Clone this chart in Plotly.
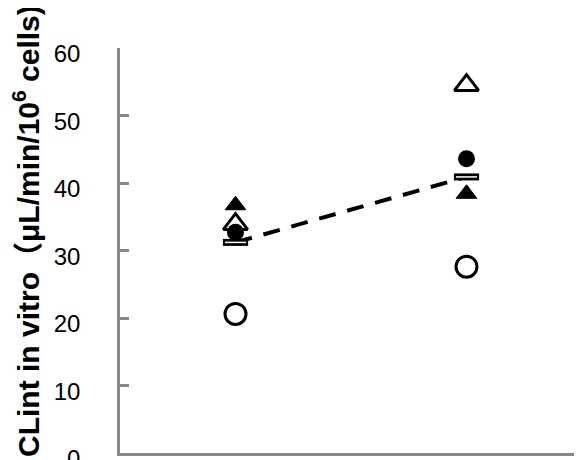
import plotly.graph_objects as go

# Data
groups = [1, 2]
open_circle = [20.6, 27.6]
filled_circle = [32.7, 43.6]
open_triangle = [33.9, 54.5]
filled_triangle = [36.7, 38.4]
means = [31.2, 40.9]
y_ticks = [0, 10, 20, 30, 40, 50, 60]
y_title = "CLint in vitro（μL/min/10<sup>6</sup> cells)"

# page has an 8px body margin; figure coordinates compensate for it
OFF = 8
W, H = 582, 460
ml, mr, mt, mb = 120 - OFF, OFF, 48 - OFF, 15
pw = W - ml - mr
ph = H - mt - mb

fig = go.Figure()

fig.add_trace(go.Scatter(x=groups, y=open_circle, mode="markers",
                         marker=dict(symbol="circle-open", size=21, color="black",
                                     line=dict(width=3, color="black"))))
fig.add_trace(go.Scatter(x=groups, y=open_triangle, mode="markers",
                         marker=dict(symbol="triangle-up", size=21, color="white",
                                     line=dict(width=3, color="black"))))
fig.add_trace(go.Scatter(x=groups, y=filled_triangle, mode="markers",
                         marker=dict(symbol="triangle-up", size=18, color="black",
                                     line=dict(width=1, color="black"))))
fig.add_trace(go.Scatter(x=groups, y=filled_circle, mode="markers",
                         marker=dict(symbol="circle", size=17, color="black",
                                     line=dict(width=0))))
fig.add_trace(go.Scatter(x=groups, y=means, mode="lines",
                         line=dict(color="black", width=4, dash="17px,12px")))
fig.add_trace(go.Scatter(x=groups, y=means, mode="markers",
                         marker=dict(symbol="line-ew-open", size=18, color="black",
                                     line=dict(width=7, color="black"))))
fig.add_trace(go.Scatter(x=groups, y=means, mode="markers",
                         marker=dict(symbol="line-ew-open", size=15, color="white",
                                     line=dict(width=1.5, color="white"))))

fig.update_layout(
    width=W, height=H,
    margin=dict(l=ml, r=mr, t=mt, b=mb, pad=0),
    paper_bgcolor="white", plot_bgcolor="white",
    showlegend=False,
    font=dict(family="Liberation Sans, Arial, sans-serif", color="black"),
)
fig.update_xaxes(range=[0.5, 2.5], showgrid=False, zeroline=False,
                 showline=True, linecolor="#888888", linewidth=2.5,
                 ticks="", showticklabels=False, automargin=False)
fig.update_yaxes(range=[0, 60], tickvals=y_ticks, showgrid=False, zeroline=False,
                 showline=True, linecolor="#888888", linewidth=2.5,
                 ticks="inside", ticklen=9, tickwidth=2.5, tickcolor="#888888",
                 tickfont=dict(size=24, color="black"), ticklabelstandoff=32,
                 ticklabelshift=6, ticklabeloverflow="allow",
                 automargin=False)

fig.add_annotation(text=y_title, textangle=-90, showarrow=False,
                   xref="paper", yref="paper",
                   x=(18 - ml) / pw, y=(453 - OFF - 223) / ph,
                   xanchor="center", yanchor="middle",
                   font=dict(size=30, color="black",
                             family="Liberation Sans, Arial, Noto Sans CJK JP, sans-serif",
                             weight="bold"))

fig.write_html("out.html")
